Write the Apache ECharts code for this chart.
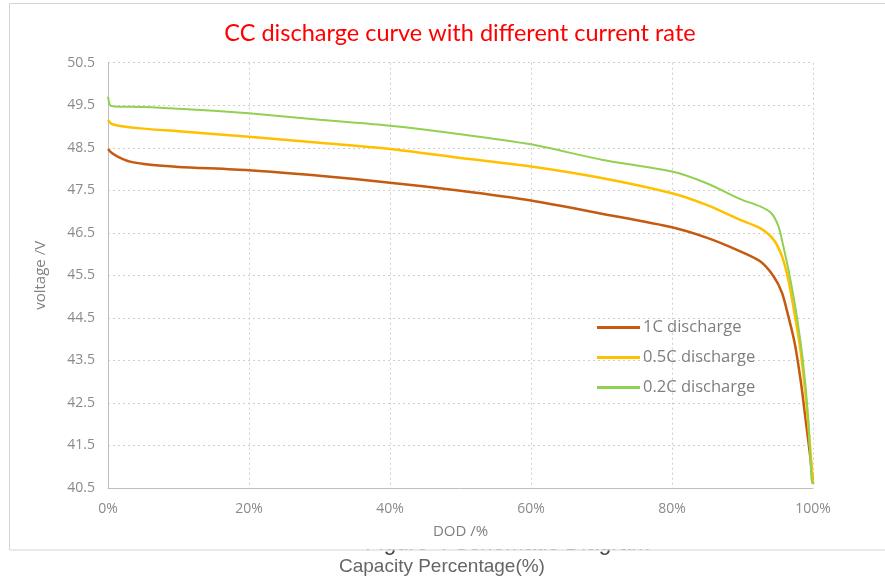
<!DOCTYPE html>
<html>
<head>
<meta charset="utf-8">
<script src="https://cdn.jsdelivr.net/npm/echarts@6/dist/echarts.min.js"></script>
<style>html,body{margin:0;padding:0;background:#fff;}#c{width:885px;height:582px;}</style>
</head>
<body>
<div id="c"></div>
<script>
const titleText = 'CC discharge curve with different current rate';
const seriesNames = ['1C discharge', '0.5C discharge', '0.2C discharge'];
const xTicksFmt = '{value}%';

const dod1C = [0, 0.5, 1.5, 3, 6, 10, 20, 30, 40, 50, 60, 70, 80, 85, 89.6, 92.5, 94.4, 95.6, 96.5, 97.4, 98.3, 99.0, 99.6, 100];
const volt1C = [48.47, 48.38, 48.28, 48.18, 48.10, 48.05, 47.97, 47.84, 47.68, 47.49, 47.26, 46.95, 46.63, 46.38, 46.07, 45.83, 45.48, 45.09, 44.54, 43.91, 42.97, 42.04, 41.25, 40.6];

const dod05C = [0, 0.5, 1.5, 5, 10, 20, 30, 40, 50, 60, 70, 80, 85, 89.6, 92.5, 94.4, 95.6, 96.5, 97.2, 98.2, 99.1, 99.7, 100];
const volt05C = [49.15, 49.06, 49.02, 48.95, 48.89, 48.76, 48.62, 48.47, 48.26, 48.06, 47.79, 47.43, 47.15, 46.81, 46.61, 46.34, 45.95, 45.40, 44.77, 43.76, 42.42, 41.25, 40.6];

const dod02C = [0, 0.3, 1, 5, 10, 20, 30, 40, 50, 60, 70, 80, 85, 89.6, 92.5, 94.1, 95.1, 95.8, 96.7, 97.7, 98.6, 99.3, 99.8, 100];
const volt02C = [49.7, 49.5, 49.47, 49.46, 49.42, 49.31, 49.16, 49.02, 48.82, 48.58, 48.22, 47.94, 47.66, 47.30, 47.12, 46.96, 46.65, 46.18, 45.48, 44.54, 43.44, 42.19, 40.70, 40.6];

const pairs = (xs, ys) => xs.map((x, i) => [x, ys[i]]);

const chart = echarts.init(document.getElementById('c'));
const font = '"Open Sans", "Liberation Sans", sans-serif';
const lbl = '#8a8a8a';
chart.setOption({
  animation: false,
  backgroundColor: '#fff',
  title: {
    text: titleText,
    left: 455, top: 16, textAlign: 'center',
    textStyle: { color: '#FF0000', fontSize: 23.5, fontWeight: 'normal', fontFamily: 'Lato, "Open Sans", sans-serif' }
  },
  grid: { left: 108, right: 72, top: 62.7, bottom: 94, containLabel: false },
  legend: {
    orient: 'vertical', left: 597, top: 319, padding: 0,
    icon: 'rect', itemWidth: 43, itemHeight: 3, itemGap: 13,
    textStyle: { color: '#7f7f7f', fontSize: 16.5, fontFamily: font, padding: [0, 0, 0, -2] },
    data: seriesNames
  },
  xAxis: {
    type: 'value', min: 0, max: 100, interval: 20,
    name: 'DOD /%', nameLocation: 'middle', nameGap: 36,
    nameTextStyle: { color: '#7f7f7f', fontSize: 15, fontFamily: font },
    axisLabel: { formatter: xTicksFmt, color: lbl, fontSize: 14, margin: 14, fontFamily: font },
    axisLine: { show: true, lineStyle: { color: '#bfbfbf', width: 1 } },
    axisTick: { show: false },
    splitLine: { show: true, lineStyle: { color: '#cfcfcf', type: [2, 3], width: 1 } }
  },
  yAxis: {
    type: 'value', min: 40.5, max: 50.5, interval: 1,
    name: 'voltage /V', nameLocation: 'middle', nameGap: 60, nameRotate: 90,
    nameTextStyle: { color: '#7f7f7f', fontSize: 15, fontFamily: font },
    axisLabel: { color: lbl, fontSize: 14, margin: 13, fontFamily: font, formatter: v => v.toFixed(1) },
    axisLine: { show: true, lineStyle: { color: '#bfbfbf', width: 1 } },
    axisTick: { show: false },
    splitLine: { show: true, lineStyle: { color: '#cfcfcf', type: [2, 3], width: 1 } }
  },
  series: [
    { name: seriesNames[0], type: 'line', data: pairs(dod1C, volt1C), showSymbol: false, symbol: 'none',
      smooth: 0.25, lineStyle: { color: '#C55A11', width: 2.5 }, itemStyle: { color: '#C55A11' } },
    { name: seriesNames[1], type: 'line', data: pairs(dod05C, volt05C), showSymbol: false, symbol: 'none',
      smooth: 0.25, lineStyle: { color: '#FFC000', width: 2.5 }, itemStyle: { color: '#FFC000' } },
    { name: seriesNames[2], type: 'line', data: pairs(dod02C, volt02C), showSymbol: false, symbol: 'none',
      smooth: 0.25, lineStyle: { color: '#92D050', width: 2 }, itemStyle: { color: '#92D050' } }
  ],
  graphic: [
    { type: 'text', left: 365, top: 532, z: -2,
      style: { text: 'Figure 4 Schematic Diagram', fill: '#444', font: '22.5px "Liberation Sans", Arial, sans-serif' } },
    { type: 'rect', shape: { x: 350, y: 528, width: 330, height: 21.5 }, z: -1,
      style: { fill: '#fff' } },
    { type: 'rect', shape: { x: 9.5, y: 3.5, width: 900, height: 546.5 }, z: 3,
      style: { fill: 'none', stroke: '#d4d4d4', lineWidth: 1 } },
    { type: 'text', left: 339, top: 557, z: 1,
      style: { text: 'Capacity Percentage(%)', fill: '#666', font: '19px "Liberation Sans", Arial, sans-serif' } }
  ]
});
</script>
</body>
</html>
